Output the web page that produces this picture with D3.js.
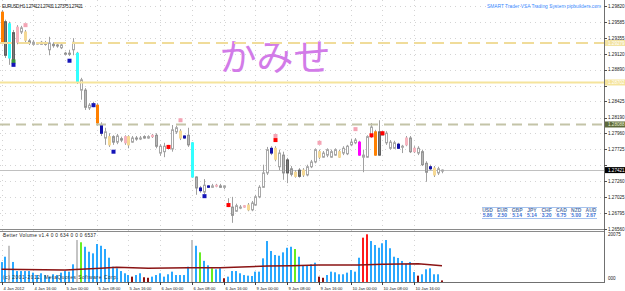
<!DOCTYPE html>
<html>
<head>
<meta charset="utf-8">
<script src="https://cdnjs.cloudflare.com/ajax/libs/d3/7.8.5/d3.min.js"></script>
<style>
body { margin: 0; background: #fff; }
svg { display: block; }
text { font-family: "Liberation Sans", Arial, sans-serif; }
</style>
</head>
<body>
<svg id="chart" width="625" height="291"></svg>
<script>
// EURUSD H1, 4 Jan 2012 08:00 -> 10 Jan 23:00, one entry per bar
const openP = [
  1.2973, 1.2959, 1.2956, 1.2943, 1.2929, 1.2944, 1.2944, 1.2931, 1.2926, 1.2928,
  1.2926, 1.2928, 1.2918, 1.2926, 1.2925, 1.2921, 1.2913, 1.2912, 1.2918, 1.2913,
  1.2859, 1.2859, 1.2833, 1.2836, 1.2837, 1.2808, 1.2789, 1.2791, 1.2791, 1.2783,
  1.2788, 1.2782, 1.2791, 1.2783, 1.2789, 1.2788, 1.2791, 1.2789, 1.2791, 1.2793,
  1.2767, 1.2769, 1.2774, 1.2773, 1.2798, 1.2799, 1.2792, 1.2793, 1.2782, 1.2732,
  1.2716, 1.2710, 1.2719, 1.2717, 1.2719, 1.2719, 1.2717, 1.2690, 1.2688, 1.2682,
  1.2687, 1.2688, 1.2691, 1.2684, 1.2691, 1.2703, 1.2717, 1.2738, 1.2774, 1.2774,
  1.2747, 1.2764, 1.2757, 1.2744, 1.2739, 1.2742, 1.2735, 1.2735, 1.2747, 1.2754,
  1.2769, 1.2761, 1.2764, 1.2761, 1.2764, 1.2769, 1.2767, 1.2766, 1.2779, 1.2782,
  1.2783, 1.2761, 1.2761, 1.2791, 1.2798, 1.2764, 1.2793, 1.2796, 1.2783, 1.2774,
  1.2780, 1.2776, 1.2779, 1.2789, 1.2774, 1.2767, 1.2769, 1.2752, 1.2747, 1.2745,
  1.2738, 1.27412
];
const highP = [
  1.2976, 1.2962, 1.2959, 1.2947, 1.2954, 1.2953, 1.2947, 1.2934, 1.2932, 1.2929,
  1.2931, 1.2931, 1.2937, 1.2929, 1.2928, 1.2928, 1.2915, 1.2918, 1.2935, 1.2915,
  1.2877, 1.2862, 1.2840, 1.2842, 1.2840, 1.2812, 1.2804, 1.2796, 1.2793, 1.2795,
  1.2791, 1.2793, 1.2793, 1.2792, 1.2792, 1.2792, 1.2793, 1.2793, 1.2795, 1.2796,
  1.2780, 1.2782, 1.2779, 1.2808, 1.2807, 1.2802, 1.2793, 1.2804, 1.2783, 1.2733,
  1.2719, 1.2729, 1.2720, 1.2722, 1.2722, 1.2722, 1.2720, 1.2701, 1.2703, 1.2693,
  1.2691, 1.2691, 1.2694, 1.2697, 1.2706, 1.2720, 1.2750, 1.2776, 1.2777, 1.2777,
  1.2772, 1.2769, 1.2760, 1.2748, 1.2742, 1.2745, 1.2745, 1.2750, 1.2757, 1.2774,
  1.2772, 1.2770, 1.2774, 1.2772, 1.2774, 1.2772, 1.2777, 1.2779, 1.2788, 1.2789,
  1.2785, 1.2772, 1.2793, 1.2811, 1.2801, 1.2815, 1.2799, 1.2799, 1.2786, 1.2785,
  1.2782, 1.2779, 1.2792, 1.2792, 1.2777, 1.2777, 1.2772, 1.2755, 1.2750, 1.2748,
  1.2747, 1.27431
];
const lowP = [
  1.2926, 1.2906, 1.2896, 1.2894, 1.2926, 1.2941, 1.2929, 1.2925, 1.2924, 1.2926,
  1.2925, 1.2924, 1.2910, 1.2921, 1.2921, 1.2919, 1.2910, 1.2909, 1.2910, 1.2868,
  1.2845, 1.2830, 1.2830, 1.2834, 1.2807, 1.2792, 1.2779, 1.2776, 1.2779, 1.2780,
  1.2783, 1.2779, 1.2774, 1.2782, 1.2785, 1.2786, 1.2788, 1.2788, 1.2789, 1.2774,
  1.2763, 1.2761, 1.2772, 1.2769, 1.2795, 1.2786, 1.2788, 1.2776, 1.2731, 1.2706,
  1.2709, 1.2707, 1.2716, 1.2716, 1.2717, 1.2716, 1.2714, 1.2688, 1.2665, 1.2681,
  1.2685, 1.2687, 1.2682, 1.2682, 1.2690, 1.2701, 1.2716, 1.2735, 1.2764, 1.2755,
  1.2742, 1.2728, 1.2723, 1.2733, 1.2731, 1.2731, 1.2732, 1.2733, 1.2745, 1.2752,
  1.2758, 1.2760, 1.2761, 1.2760, 1.2763, 1.2760, 1.2764, 1.2764, 1.2777, 1.2780,
  1.2763, 1.2739, 1.2760, 1.2789, 1.2763, 1.2763, 1.2792, 1.2779, 1.2772, 1.2773,
  1.2773, 1.2767, 1.2777, 1.2767, 1.2767, 1.2764, 1.2748, 1.2725, 1.2742, 1.2732,
  1.2735, 1.27375
];
const closeP = [
  1.2929, 1.2910, 1.2906, 1.2903, 1.2951, 1.2950, 1.2932, 1.2928, 1.2929, 1.2928,
  1.2929, 1.2926, 1.2928, 1.2924, 1.2924, 1.2925, 1.2912, 1.2913, 1.2929, 1.2871,
  1.2874, 1.2834, 1.2837, 1.2839, 1.2811, 1.2796, 1.2798, 1.2779, 1.2783, 1.2792,
  1.2786, 1.2791, 1.2779, 1.2789, 1.2788, 1.2789, 1.2789, 1.2791, 1.2793, 1.2777,
  1.2777, 1.2777, 1.2776, 1.2801, 1.2804, 1.2789, 1.2789, 1.2779, 1.2732, 1.2716,
  1.2712, 1.2720, 1.2717, 1.2719, 1.2720, 1.2717, 1.2719, 1.2693, 1.2676, 1.2690,
  1.2688, 1.2690, 1.2684, 1.2694, 1.2703, 1.2717, 1.2738, 1.2772, 1.2767, 1.2758,
  1.2767, 1.2738, 1.2738, 1.2736, 1.2733, 1.2733, 1.2742, 1.2747, 1.2754, 1.2772,
  1.2761, 1.2767, 1.2772, 1.2769, 1.2772, 1.2761, 1.2774, 1.2777, 1.2783, 1.2786,
  1.2764, 1.2764, 1.2791, 1.2805, 1.2764, 1.2798, 1.2796, 1.2782, 1.2774, 1.2782,
  1.2774, 1.2777, 1.2789, 1.2769, 1.2769, 1.2774, 1.2750, 1.2739, 1.2744, 1.2735,
  1.2744, 1.27421
];
// VSA bar colouring, one letter per bar
const candleKind = (
  "ODCDPuKdud" + "ududdudduC" + "uduuOBuKdu" + "dPKududuPd" + "uuuuuKBdCd" +
  "BuBuPduudu" + "uPKuuuuuBK" + "udDdKDKuuu" + "KuuuuKuuuu" + "MuuuODuuuu" +
  "BuPdPuddBKuu"
).split("");

// Better Volume histogram
const volumes = [
  8000, 10150, 14550, 8050, 4400, 4400, 4400, 4400, 3750, 2800,
  3500, 2800, 2150, 3100, 2800, 3750, 4400, 4150, 7100, 16850,
  15950, 14150, 12150, 11500, 15250, 14550, 13250, 9750, 6150, 5500,
  4400, 3500, 2800, 2150, 2800, 3500, 1900, 1700, 2150, 2800,
  3500, 2150, 3100, 4150, 2800, 2800, 2800, 6150, 16850, 14550,
  11900, 8500, 6700, 5500, 5100, 5500, 1500, 2150, 4400, 4400,
  3500, 2800, 2550, 2400, 4150, 4150, 9500, 16450, 12450, 10850,
  10550, 11900, 13750, 14150, 13250, 10150, 6800, 6800, 7100, 7750,
  2150, 1700, 2800, 4150, 3900, 3100, 3100, 3750, 4800, 4150,
  9750, 17800, 19150, 16450, 14850, 13750, 15550, 16850, 13550, 10150,
  9650, 8450, 7250, 8050, 4000, 2550, 3100, 5100, 5500, 3100,
  3100, 634
];
const volumeKind = (
  "bbsbbbbbbb" + "bbbbbbbbbs" + "gbbbbbbbbb" + "bbbmbbmmbb" + "bbbbbbbbsb" +
  "gbbgbbmbbb" + "bbbbbbbbbb" + "bbbbgbbbbb" + "mmbbbbbbbb" + "brrbbbbbbb" +
  "bbbbbmbbbbbm"
).split("");
const maBars = [0, 16, 25, 29, 37, 47, 55, 67, 73, 80, 90, 96, 105, 111];
const maValues = [5100, 4800, 5500, 5900, 5500, 5750, 5750, 6400, 6550, 6800, 6800, 7100, 7350, 6537];

// signal squares drawn by the VSA system
const markerBars = [3, 3, 6, 17, 23, 28, 42, 45, 51, 57, 69, 69, 80, 89, 93, 96];
const markerPrices = [1.2901, 1.2896, 1.2954, 1.2902, 1.2837, 1.2769, 1.2776, 1.2815, 1.2704, 1.2691, 1.2792, 1.2786, 1.2782, 1.2802, 1.2793, 1.2796];
const markerKinds = ["green", "blue", "pink", "blue", "blue", "blue", "red", "pink", "blue", "red", "pink", "red", "pink", "pink", "red", "red"];

const priceTicks = [1.29820, 1.29585, 1.29355, 1.29120, 1.28890, 1.28655, 1.28425, 1.28190,
  1.27960, 1.27725, 1.27490, 1.27260, 1.27025, 1.26795, 1.26560];
const timeBars = [0, 8, 16, 24, 32, 40, 48, 56, 64, 72, 80, 88, 96, 104];
const timeLabels = ["4 Jan 2012", "4 Jan 16:00", "5 Jan 00:00", "5 Jan 08:00", "5 Jan 16:00",
  "6 Jan 00:00", "6 Jan 08:00", "6 Jan 16:00", "9 Jan 00:00", "9 Jan 08:00", "9 Jan 16:00",
  "10 Jan 00:00", "10 Jan 08:00", "10 Jan 16:00"];

const levelPrices = [1.29279, 1.28702, 1.28088];
const bidPrice = 1.27421;

const currencies = ["USD", "EUR", "GBP", "JPY", "CHF", "CAD", "NZD", "AUD"];
const strengths = [5.86, 2.50, 5.14, 5.14, 3.20, 6.75, 5.00, 2.67];

const svg = d3.select("#chart");
const plotRight = 604;

const x = d3.scaleLinear().domain([0, 111]).range([1.5, 442]);
const y = d3.scaleLinear().domain([1.26560, 1.29820]).range([229, 6]);
const yv = d3.scaleLinear().domain([0, 20075]).range([282, 232]);
const px = i => Math.round(x(i)) + 0.5;

const fills = { u: "#ffffff", d: "#b8b8b8", D: "#7a7a7a", C: "#33ffff", O: "#ff8000",
  P: "#f7b4bf", K: "#f6d994", B: "#1010a8", M: "#ff00ff" };
const strokes = { u: "#a8a8a8", d: "#959595", D: "#606060" };
const volFills = { b: "#2aa8ff", g: "#66ee22", r: "#ff1a1a", m: "#8b1010", s: "#c4c4c4" };
const markFills = { blue: "#1414b8", red: "#ff0000", pink: "#f4a4b4", green: "#3a9a3a" };

// grid
const grid = svg.append("g").attr("stroke", "#d4d4d4").attr("stroke-dasharray", "1,4");
grid.selectAll("line.h").data(priceTicks).join("line")
  .attr("x1", 0).attr("x2", plotRight)
  .attr("y1", d => Math.round(y(d)) + 0.5).attr("y2", d => Math.round(y(d)) + 0.5);
grid.selectAll("line.v").data(timeBars).join("line")
  .attr("x1", d => px(d)).attr("x2", d => px(d))
  .attr("y1", 0).attr("y2", 282);

// big watermark text
svg.append("text").attr("x", 275).attr("y", 71).attr("text-anchor", "middle")
  .style("font-family", "'Noto Sans CJK JP', sans-serif").style("font-size", "37px")
  .attr("fill", "#d27be8").text("かみせ");

// bid line
svg.append("line").attr("x1", 0).attr("x2", plotRight)
  .attr("y1", Math.round(y(bidPrice)) + 0.5).attr("y2", Math.round(y(bidPrice)) + 0.5)
  .attr("stroke", "#c0c0c0");

// candles
const bars = d3.range(openP.length);
const candles = svg.append("g");
candles.selectAll("line").data(bars).join("line")
  .attr("x1", i => px(i)).attr("x2", i => px(i))
  .attr("y1", i => y(highP[i])).attr("y2", i => y(lowP[i]))
  .attr("stroke", "#a0a0a0");
candles.selectAll("rect").data(bars).join("rect")
  .attr("x", i => px(i) - 1)
  .attr("width", 2)
  .attr("y", i => Math.min(y(openP[i]), y(closeP[i])))
  .attr("height", i => Math.max(1, Math.abs(y(openP[i]) - y(closeP[i]))))
  .attr("fill", i => fills[candleKind[i]])
  .attr("stroke", i => strokes[candleKind[i]] || fills[candleKind[i]]);

// signal squares
const marks = svg.append("g");
marks.selectAll("rect").data(markerBars).join("rect")
  .attr("x", (d, k) => px(d) - 2)
  .attr("y", (d, k) => y(markerPrices[k]) - 2)
  .attr("width", 4).attr("height", 4)
  .attr("fill", (d, k) => markFills[markerKinds[k]]);

// horizontal levels
const levelStyles = [
  { color: "#f0dc9a", dash: "12,6", box: "#f2e3a2", text: "#ffffff" },
  { color: "#f5e49c", dash: null, box: "#f5e49c", text: "#ffffff" },
  { color: "#c4c4a8", dash: "10,6", box: "#5e6a3c", text: "#e8f0d0" }
];
levelPrices.forEach((p, k) => {
  svg.append("line").attr("x1", 0).attr("x2", plotRight)
    .attr("y1", y(p)).attr("y2", y(p))
    .attr("stroke", levelStyles[k].color).attr("stroke-width", 2)
    .attr("stroke-dasharray", levelStyles[k].dash);
});

// panel frames
svg.append("line").attr("x1", plotRight + 0.5).attr("x2", plotRight + 0.5)
  .attr("y1", 0).attr("y2", 283).attr("stroke", "#707070");
svg.append("line").attr("x1", 0).attr("x2", plotRight).attr("y1", 229.5).attr("y2", 229.5).attr("stroke", "#8a8a8a");
svg.append("line").attr("x1", 0).attr("x2", plotRight).attr("y1", 231.5).attr("y2", 231.5).attr("stroke", "#8a8a8a");
svg.append("line").attr("x1", 0).attr("x2", plotRight).attr("y1", 282.5).attr("y2", 282.5).attr("stroke", "#707070");

// price axis; labels sitting under a level box are hidden as in the terminal
const boxed = levelPrices.concat([bidPrice]);
const shownTicks = priceTicks.filter(t => boxed.every(p => Math.abs(y(p) - y(t)) > 5));
const axis = svg.append("g").style("font-size", "4.6px");
axis.selectAll("line").data(priceTicks).join("line")
  .attr("x1", plotRight).attr("x2", plotRight + 3)
  .attr("y1", d => Math.round(y(d)) + 0.5).attr("y2", d => Math.round(y(d)) + 0.5)
  .attr("stroke", "#505050");
axis.selectAll("text").data(shownTicks).join("text")
  .attr("x", plotRight + 4).attr("y", d => y(d) + 1.7)
  .attr("fill", "#202020").text(d => d.toFixed(5));

// level price boxes
boxed.forEach((p, k) => {
  const st = levelStyles[k] || { box: "#000000", text: "#ffffff" };
  svg.append("rect").attr("x", plotRight + 1).attr("y", y(p) - 3).attr("width", 21).attr("height", 6)
    .attr("fill", st.box);
  svg.append("text").attr("x", plotRight + 4).attr("y", y(p) + 1.7)
    .style("font-size", "4.6px").attr("fill", st.text).text(p.toFixed(5));
});

// volume histogram
const vol = svg.append("g");
vol.selectAll("rect").data(bars).join("rect")
  .attr("x", i => Math.round(x(i)) - 1)
  .attr("width", 2)
  .attr("y", i => yv(volumes[i]))
  .attr("height", i => yv(0) - yv(volumes[i]))
  .attr("fill", i => volFills[volumeKind[i]]);
svg.append("path")
  .datum(maBars)
  .attr("fill", "none").attr("stroke", "#8b1414").attr("stroke-width", 1.6)
  .attr("d", d3.line().x(i => x(i)).y((i, k) => yv(maValues[k])));

svg.append("text").attr("x", plotRight + 4).attr("y", yv(20075) + 3.5)
  .style("font-size", "4.6px").attr("fill", "#202020").text("20075");
svg.append("text").attr("x", plotRight + 4).attr("y", yv(0) - 2)
  .style("font-size", "4.6px").attr("fill", "#202020").text("000");

// time axis
const tAxis = svg.append("g");
tAxis.selectAll("line").data(timeBars).join("line")
  .attr("x1", d => px(d)).attr("x2", d => px(d)).attr("y1", 282).attr("y2", 285)
  .attr("stroke", "#404040");
tAxis.selectAll("text").data(timeBars).join("text")
  .attr("x", d => px(d) + 1).attr("y", 290)
  .style("font-size", "4.2px").attr("fill", "#202020")
  .text((d, k) => timeLabels[k]);

// captions
svg.append("text").attr("x", 2).attr("y", 7.5).style("font-size", "4.8px").attr("fill", "#202020")
  .attr("textLength", 81).text("EURUSD,H1  1.27412 1.27431 1.27375 1.27421");
svg.append("text").attr("x", 487).attr("y", 8).style("font-size", "4.8px").attr("fill", "#3a8cff")
  .attr("textLength", 114).text("SMART Trader VSA Trading System pipbuilders.com");
svg.append("text").attr("x", 3).attr("y", 237).style("font-size", "4.8px").attr("fill", "#202020")
  .attr("textLength", 93).text("Better Volume v1.4 0 0 634 0 0 0 6537");
svg.append("text").attr("x", 3).attr("y", 279).style("font-size", "4.8px").attr("fill", "#303030")
  .attr("textLength", 115).text("(c) 2001-2012, MetaQuotes Software Corp.");

// currency strength table
const cx = d3.scaleLinear().domain([0, 7]).range([487.5, 591]);
const tbl = svg.append("g").style("font-size", "5px").style("font-weight", "bold").attr("text-anchor", "middle");
tbl.selectAll("text.h").data(currencies).join("text").attr("class", "h")
  .attr("x", (d, k) => cx(k)).attr("y", 212).attr("fill", "#5a78a8").text(d => d);
tbl.selectAll("text.v").data(strengths).join("text").attr("class", "v")
  .attr("x", (d, k) => cx(k)).attr("y", 217).attr("fill", "#3d72d6").text(d => d.toFixed(2));
svg.append("line").attr("x1", 482).attr("x2", 597).attr("y1", 207.5).attr("y2", 207.5).attr("stroke", "#a6c2ee");
svg.append("line").attr("x1", 482).attr("x2", 597).attr("y1", 218.5).attr("y2", 218.5).attr("stroke", "#a6c2ee");
</script>
</body>
</html>
